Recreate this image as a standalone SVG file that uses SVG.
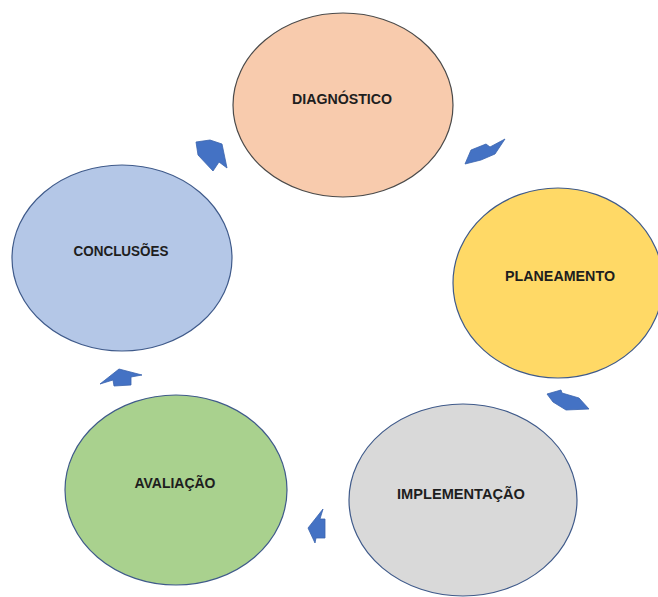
<svg xmlns="http://www.w3.org/2000/svg" width="658" height="597" viewBox="0 0 658 597">
  <style>
    .stage { stroke-width: 1.2; }
    .label { font-family: "Liberation Sans", Arial, sans-serif; font-weight: bold; font-size: 14.5px; fill: #1e1e1e; text-anchor: middle; }
    .flow { fill: #4472C4; stroke: #3a63ad; stroke-width: 0.8; stroke-linejoin: round; }
  </style>
  <rect width="658" height="597" fill="#ffffff"/>

  <g id="diagnostico">
    <ellipse class="stage" cx="343" cy="105" rx="110" ry="92" fill="#F8CBAD" stroke="#4a4a4a"/>
    <text class="label" x="342" y="103.5" textLength="100" lengthAdjust="spacingAndGlyphs">DIAGNÓSTICO</text>
  </g>

  <g id="planeamento">
    <ellipse class="stage" cx="558" cy="283" rx="105" ry="95" fill="#FFD966" stroke="#3f5a8a"/>
    <text class="label" x="560" y="280.5" textLength="110" lengthAdjust="spacingAndGlyphs">PLANEAMENTO</text>
  </g>

  <g id="implementacao">
    <ellipse class="stage" cx="463" cy="500" rx="114" ry="96" fill="#D9D9D9" stroke="#3f5a8a"/>
    <text class="label" x="461" y="498.5" textLength="128" lengthAdjust="spacingAndGlyphs">IMPLEMENTAÇÃO</text>
  </g>

  <g id="avaliacao">
    <ellipse class="stage" cx="176" cy="490" rx="111" ry="95" fill="#A9D18E" stroke="#3f5a8a"/>
    <text class="label" x="175" y="487.5" textLength="81" lengthAdjust="spacingAndGlyphs">AVALIAÇÃO</text>
  </g>

  <g id="conclusoes">
    <ellipse class="stage" cx="122" cy="258" rx="110" ry="93" fill="#B4C7E7" stroke="#3f5a8a"/>
    <text class="label" x="121" y="255.5" textLength="95" lengthAdjust="spacingAndGlyphs">CONCLUSÕES</text>
  </g>

  <g id="connectors">
    <polygon class="flow" points="196,142 210,140 222,144 227,168 219,162 213,171 198,155"/>
    <polygon class="flow" points="465,164 471,150 486,144 490,147 505,139 495,154 481,160"/>
    <polygon class="flow" points="547,394 561,390 562,393 579,398 589,409 566,410 553,402"/>
    <polygon class="flow" points="308,528 323,509 320,519 325,519 325,538 316,538 315,543"/>
    <polygon class="flow" points="119,369 142,375 131,377 131,385 114,386 113,380 100,384"/>
  </g>
</svg>
